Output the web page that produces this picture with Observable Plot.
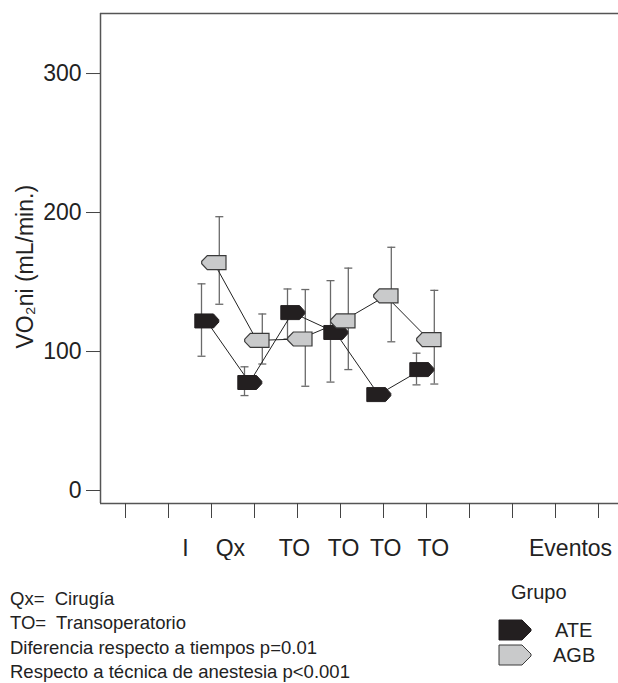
<!DOCTYPE html>
<html><head><meta charset="utf-8">
<script src="https://cdn.jsdelivr.net/npm/d3@7"></script>
<script src="https://cdn.jsdelivr.net/npm/@observablehq/plot@0.6"></script>
<style>
body{margin:0;background:#fff;font-family:"Liberation Sans",Arial,sans-serif;color:#222}
#wrap{position:relative;width:618px;height:683px;overflow:hidden}
#notes{position:absolute;left:10px;top:587px;font-size:18.5px;line-height:24.3px;white-space:pre}
.lg{position:absolute;font-size:20px;line-height:24px;white-space:nowrap}
.lgsym{position:absolute}
</style></head><body>
<div id="wrap">
<div id="chart"></div>
<div id="notes"></div>
<div id="legend"></div>
</div>
<script>
// ---- data ----
const axisTicks = [1,2,3,4,5,6,7,8,9,10,11,12];
const timeLabels = ["I","Qx","TO","TO","TO","TO","Eventos"];
const labelPos = [2.395, 3.44, 4.93, 6.07, 7.05, 8.16, 11.35];
const times = [3,4,5,6,7,8];
const ateMean = [122, 77.7, 128, 113.7, 69, 87];
const ateLow  = [96.6, 68.3, 109, 78, 67, 76];
const ateHigh = [148.7, 89, 145, 151, 71, 98.8];
const agbMean = [164, 108, 109, 122, 140, 108.6];
const agbLow  = [134, 91, 75, 87, 107, 76.6];
const agbHigh = [197, 127, 144.6, 160, 175, 144];
const yTicks = [0,100,200,300];
const groups = ["ATE","AGB"];
const yLabel = "VO₂ni (mL/min.)";
const notes = ["Qx=  Cirugía","TO=  Transoperatorio","Diferencia respecto a tiempos p=0.01","Respecto a técnica de anestesia p<0.001"];

const xDomain = [0.4186, 12.465];
const yDomain = [-9.35, 343.2];

const ate = times.map((t,i)=>({t, m: ateMean[i], lo: ateLow[i], hi: ateHigh[i]}));
const agb = times.map((t,i)=>({t, m: agbMean[i], lo: agbLow[i], hi: agbHigh[i]}));
const labelMap = new Map(labelPos.map((p,i)=>[p, timeLabels[i]]));

const ateSymbol = {draw(c){c.moveTo(-6.7,-7);c.lineTo(12,-7);c.lineTo(17.3,-1.2);c.lineTo(17.3,1.2);c.lineTo(12,7);c.lineTo(-6.7,7);c.closePath();}};
const agbSymbol = {draw(c){c.moveTo(6.7,-7);c.lineTo(-12,-7);c.lineTo(-17.6,-1.2);c.lineTo(-17.6,1.2);c.lineTo(-12,7);c.lineTo(6.7,7);c.closePath();}};
const capSymbol = {draw(c){c.moveTo(-4,0);c.lineTo(4,0);}};

const ateDx = -10, agbDx = 7.8;
const barColor = "#6a6a6a";

function errMarks(data, dx){
  return [
    Plot.ruleX(data, {x:"t", y1:"lo", y2:"hi", dx, stroke:barColor, strokeWidth:1.3}),
    Plot.dot(data, {x:"t", y:"lo", dx, symbol:capSymbol, stroke:barColor, fill:"none", strokeWidth:1.3}),
    Plot.dot(data, {x:"t", y:"hi", dx, symbol:capSymbol, stroke:barColor, fill:"none", strokeWidth:1.3})
  ];
}

const chart = Plot.plot({
  width: 618, height: 560,
  marginLeft: 100, marginRight: 0, marginTop: 13, marginBottom: 57,
  style: {fontFamily: "'Liberation Sans', Arial, sans-serif", color: "#222", background: "#fff"},
  x: {domain: xDomain},
  y: {domain: yDomain},
  marks: [
    Plot.ruleX([xDomain[0]], {stroke:"#555", strokeWidth:1.5}),
    Plot.ruleY([yDomain[0], yDomain[1]], {stroke:"#555", strokeWidth:1.5}),
    Plot.axisY(yTicks, {tickSize:14, tickPadding:5, fontSize:23, label:null, stroke:"#444"}),
    Plot.axisX(axisTicks, {tickSize:15, tickFormat:()=>"", label:null, stroke:"#444"}),
    Plot.axisX(labelPos, {tickSize:0, tickPadding:36, tickFormat:d=>labelMap.get(d), fontSize:23, label:null}),
    Plot.text([yLabel], {x: xDomain[0], y: 161, text: d=>d, rotate:-90, dx:-75, fontSize:23, fill:"#222"}),
    ...errMarks(ate, ateDx),
    ...errMarks(agb, agbDx),
    Plot.line(ate, {x:"t", y:"m", dx: ateDx+5, stroke:"#222", strokeWidth:1}),
    Plot.line(agb, {x:"t", y:"m", dx: agbDx-5.5, stroke:"#222", strokeWidth:1}),
    Plot.dot(ate, {x:"t", y:"m", dx: ateDx, symbol: ateSymbol, fill:"#231f20", stroke:"#231f20", strokeWidth:1}),
    Plot.dot(agb, {x:"t", y:"m", dx: agbDx, symbol: agbSymbol, fill:"#c9cacb", stroke:"#3a3a3a", strokeWidth:1.2})
  ]
});
document.getElementById("chart").appendChild(chart);

document.getElementById("notes").textContent = notes.join("\n");

// legend
const lg = document.getElementById("legend");
const styles = [{fill:"#231f20", stroke:"#231f20"},{fill:"#c9cacb", stroke:"#3a3a3a"}];
lg.innerHTML = `<div class="lg" style="left:511px;top:580px">Grupo</div>` +
  groups.map((g,i)=>{
    const top = 619 + i*25;
    const s = styles[i];
    return `<svg class="lgsym" style="left:498px;top:${top}px" width="35" height="22"><path d="M1,1 L24,1 L33,10 L33,12 L24,21 L1,21 Z" fill="${s.fill}" stroke="${s.stroke}" stroke-width="1"/></svg>` +
      `<div class="lg" style="left:${i?553:555}px;top:${top-1}px">${g}</div>`;
  }).join("");
</script>
</body></html>
